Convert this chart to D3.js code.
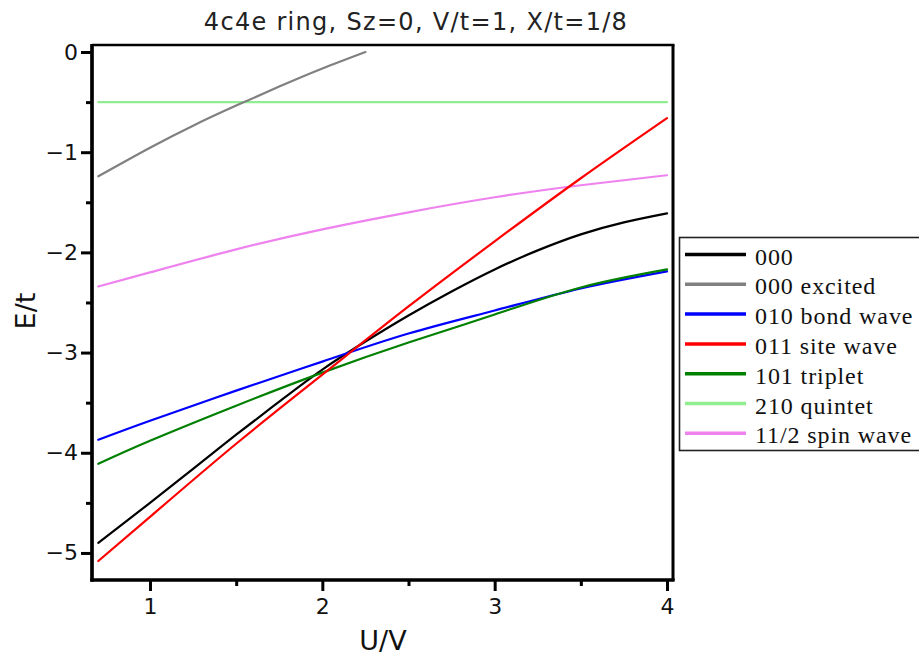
<!DOCTYPE html>
<html><head><meta charset="utf-8">
<script src="https://cdn.jsdelivr.net/npm/d3@7/dist/d3.min.js"></script>
<style>body{margin:0;background:#fff}svg{display:block}</style>
</head><body>
<svg id="c" width="919" height="659"></svg>
<script>
// ---- data ----
const uCoarse = [0.7, 1.0, 1.5, 2.0, 2.5, 3.0, 3.5, 4.0];
const uFine = [0.7, 1.0, 1.25, 1.5, 1.75, 2.0, 2.25, 2.5, 2.75, 3.0, 3.25, 3.5, 3.75, 4.0];
const uExcited = [0.7, 1.0, 1.25, 1.5, 1.75, 2.0, 2.25];
const uFlat = [0.7, 4.0];

const e000 = [-4.90, -4.50, -4.16, -3.82, -3.49, -3.17, -2.89, -2.63, -2.39, -2.17, -1.98, -1.82, -1.70, -1.61];
const e000excited = [-1.24, -0.955, -0.735, -0.535, -0.345, -0.165, 0.0];
const e010bond = [-3.87, -3.68, -3.38, -3.09, -2.81, -2.58, -2.36, -2.19];
const e011site = [-5.08, -4.64, -3.91, -3.22, -2.54, -1.89, -1.26, -0.66];
const e101triplet = [-4.11, -3.88, -3.53, -3.20, -2.90, -2.62, -2.35, -2.17];
const e210quintet = [-0.5, -0.5];
const e11_2spin = [-2.34, -2.20, -1.97, -1.77, -1.60, -1.45, -1.33, -1.23];

const seriesNames = ["000", "000 excited", "010 bond wave", "011 site wave", "101 triplet", "210 quintet", "11/2 spin wave"];
const seriesColors = ["#000000", "#808080", "#0000ff", "#ff0000", "#008000", "#90ee90", "#ee82ee"];
const seriesX = [uFine, uExcited, uCoarse, uCoarse, uCoarse, uFlat, uCoarse];
const seriesY = [e000, e000excited, e010bond, e011site, e101triplet, e210quintet, e11_2spin];

const xMajor = [1, 2, 3, 4];
const xMinor = [1.5, 2.5, 3.5];
const yMajor = [0, -1, -2, -3, -4, -5];
const yMinor = [-0.5, -1.5, -2.5, -3.5, -4.5];

const titleText = "4c4e ring, Sz=0, V/t=1, X/t=1/8";
const xLabel = "U/V";
const yLabel = "E/t";

// ---- layout ----
const L = 92, R = 673, T = 45, B = 580;
const svg = d3.select("#c");
const x = d3.scaleLinear().domain([0.6634, 4.0348]).range([L, R]);
const y = d3.scaleLinear().domain([-5.27, 0.07]).range([B, T]);
const fmt = v => (v < 0 ? "\u2212" + Math.abs(v) : String(v));

// lines
const line = d3.line().curve(d3.curveNatural);
const order = [5, 1, 6, 0, 2, 4, 3];
order.forEach(i => {
  const pts = seriesX[i].map((u, k) => [x(u), y(seriesY[i][k])]);
  svg.append("path").attr("d", line(pts)).attr("fill", "none")
    .attr("stroke", seriesColors[i]).attr("stroke-width", 2.2)
    .attr("stroke-linecap", "round");
});

// frame top/right
svg.append("line").attr("x1", L).attr("x2", R + 1.5).attr("y1", T).attr("y2", T)
  .attr("stroke", "#000").attr("stroke-width", 2.5);
svg.append("line").attr("x1", R).attr("x2", R).attr("y1", T).attr("y2", B)
  .attr("stroke", "#000").attr("stroke-width", 3);

// axes
const tickFont = "'DejaVu Sans', sans-serif";
const gx = svg.append("g").attr("transform", `translate(0,${B})`)
  .call(d3.axisBottom(x).tickValues(xMajor).tickSize(11).tickPadding(7).tickFormat(fmt));
const gxm = svg.append("g").attr("transform", `translate(0,${B})`)
  .call(d3.axisBottom(x).tickValues(xMinor).tickSize(6).tickFormat(""));
const gy = svg.append("g").attr("transform", `translate(${L},0)`)
  .call(d3.axisLeft(y).tickValues(yMajor).tickSize(11).tickPadding(3).tickFormat(fmt));
const gym = svg.append("g").attr("transform", `translate(${L},0)`)
  .call(d3.axisLeft(y).tickValues(yMinor).tickSize(6).tickFormat(""));
[gx, gxm, gy, gym].forEach(g => {
  g.select(".domain").attr("stroke", "#000").attr("stroke-width", 3.2)
    .attr("d", g === gx || g === gxm ? `M${L - 1.5},0H${R + 1.5}` : `M0,${T - 1}V${B + 1.5}`);
  g.selectAll(".tick line").attr("stroke", "#000").attr("stroke-width", 3);
  g.selectAll(".tick text").attr("font-family", tickFont).attr("font-size", 22).attr("fill", "#111");
});

// titles
svg.append("text").attr("x", 416).attr("y", 30).attr("text-anchor", "middle")
  .attr("font-family", tickFont).attr("font-size", 24).attr("letter-spacing", 1.3)
  .attr("fill", "#222").text(titleText);
svg.append("text").attr("x", 383).attr("y", 650).attr("text-anchor", "middle")
  .attr("font-family", tickFont).attr("font-size", 27).attr("fill", "#111").text(xLabel);
svg.append("text").attr("transform", "translate(35,311) rotate(-90)").attr("text-anchor", "middle")
  .attr("font-family", tickFont).attr("font-size", 27).attr("fill", "#111").text(yLabel);

// legend
const lg = svg.append("g");
lg.append("rect").attr("x", 679.5).attr("y", 237.5).attr("width", 260).attr("height", 213)
  .attr("fill", "#fff").attr("stroke", "#222").attr("stroke-width", 1.6);
seriesNames.forEach((name, i) => {
  const cy = 254.5 + i * 29.8;
  lg.append("line").attr("x1", 685).attr("x2", 746).attr("y1", cy).attr("y2", cy)
    .attr("stroke", seriesColors[i]).attr("stroke-width", 3.5);
  lg.append("text").attr("x", 755).attr("y", cy + 10)
    .attr("font-family", "'Liberation Serif', 'Times New Roman', serif")
    .attr("font-size", 24).attr("letter-spacing", 0.9).attr("fill", "#111").text(name);
});
</script>
</body></html>
